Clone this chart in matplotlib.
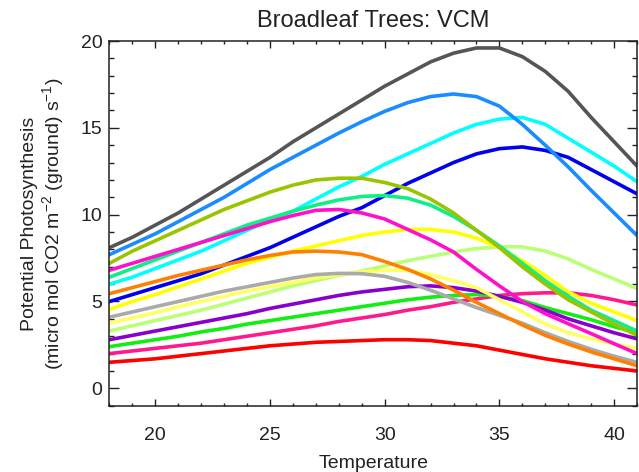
import matplotlib.pyplot as plt
from matplotlib.ticker import MultipleLocator

plt.rcParams['font.family'] = ['Liberation Sans', 'DejaVu Sans']
plt.rcParams['mathtext.fontset'] = 'custom'
plt.rcParams['mathtext.rm'] = 'Liberation Sans'

temperature = list(range(18, 42))

dark_gray = [8.1, 8.7, 9.4, 10.1, 10.9, 11.7, 12.5, 13.3, 14.2, 15.0, 15.8, 16.6,
             17.4, 18.1, 18.8, 19.3, 19.6, 19.6, 19.1, 18.25, 17.1, 15.6, 14.2, 12.8]
dodger_blue = [7.7, 8.3, 8.9, 9.6, 10.3, 11.0, 11.8, 12.6, 13.3, 14.0, 14.7, 15.35,
               15.95, 16.45, 16.8, 16.95, 16.8, 16.25, 15.2, 14.0, 12.75, 11.4, 10.1, 8.8]
olive = [7.2, 7.9, 8.5, 9.1, 9.7, 10.3, 10.8, 11.3, 11.7, 12.0, 12.1, 12.1,
         11.85, 11.5, 10.9, 10.1, 9.1, 8.1, 7.0, 6.0, 5.1, 4.4, 3.7, 3.05]
magenta = [6.8, 7.2, 7.6, 8.0, 8.4, 8.8, 9.2, 9.6, 9.95, 10.25, 10.3, 10.1,
           9.75, 9.15, 8.55, 7.85, 6.85, 5.9, 5.0, 4.3, 3.72, 3.15, 2.57, 2.0]
spring_green = [6.4, 6.9, 7.4, 7.9, 8.4, 8.9, 9.4, 9.8, 10.2, 10.55, 10.85, 11.05,
                11.1, 10.95, 10.55, 9.9, 9.1, 8.2, 7.2, 6.2, 5.3, 4.5, 3.9, 3.3]
cyan = [6.0, 6.4, 6.9, 7.4, 7.9, 8.5, 9.1, 9.7, 10.2, 10.9, 11.6, 12.2,
        12.9, 13.5, 14.1, 14.7, 15.2, 15.5, 15.6, 15.2, 14.4, 13.6, 12.8, 11.9]
orange = [5.45, 5.8, 6.15, 6.5, 6.8, 7.1, 7.4, 7.65, 7.85, 7.9, 7.85, 7.7,
          7.3, 6.85, 6.3, 5.65, 4.95, 4.3, 3.65, 3.05, 2.55, 2.1, 1.7, 1.3]
blue = [5.0, 5.4, 5.8, 6.2, 6.6, 7.1, 7.6, 8.1, 8.7, 9.3, 9.9, 10.4,
        11.1, 11.8, 12.4, 13.0, 13.5, 13.8, 13.9, 13.7, 13.3, 12.6, 11.9, 11.2]
yellow = [4.55, 5.0, 5.4, 5.85, 6.3, 6.75, 7.2, 7.55, 7.9, 8.2, 8.5, 8.8,
          9.0, 9.15, 9.15, 9.0, 8.65, 8.1, 7.35, 6.5, 5.55, 4.9, 4.4, 3.9]
light_gray = [4.1, 4.4, 4.7, 5.0, 5.3, 5.6, 5.85, 6.1, 6.35, 6.55, 6.62, 6.6,
              6.45, 6.1, 5.65, 5.15, 4.65, 4.2, 3.75, 3.2, 2.7, 2.25, 1.85, 1.5]
light_yellow = [3.75, 4.05, 4.35, 4.7, 5.0, 5.3, 5.6, 5.85, 6.1, 6.35, 6.55, 6.7,
                6.8, 6.8, 6.55, 6.2, 5.8, 5.1, 4.4, 3.7, 3.2, 2.85, 2.55, 2.3]
light_green = [3.3, 3.6, 3.9, 4.2, 4.5, 4.85, 5.2, 5.55, 5.9, 6.2, 6.5, 6.75,
               7.05, 7.35, 7.6, 7.85, 8.05, 8.15, 8.15, 7.9, 7.45, 6.85, 6.3, 5.75]
purple = [2.8, 3.05, 3.3, 3.55, 3.8, 4.05, 4.3, 4.6, 4.85, 5.1, 5.35, 5.55,
          5.7, 5.85, 5.9, 5.8, 5.6, 5.3, 4.95, 4.5, 4.0, 3.6, 3.2, 2.85]
green = [2.4, 2.6, 2.8, 3.0, 3.25, 3.45, 3.7, 3.9, 4.1, 4.3, 4.5, 4.7,
         4.9, 5.1, 5.25, 5.35, 5.4, 5.3, 5.05, 4.65, 4.3, 3.95, 3.55, 3.2]
deep_pink = [2.0, 2.15, 2.3, 2.45, 2.6, 2.8, 3.0, 3.2, 3.4, 3.6, 3.85, 4.05,
             4.25, 4.5, 4.7, 4.95, 5.15, 5.35, 5.45, 5.5, 5.5, 5.35, 5.1, 4.8]
red = [1.5, 1.6, 1.7, 1.85, 2.0, 2.15, 2.3, 2.45, 2.55, 2.65, 2.7, 2.75,
       2.8, 2.8, 2.75, 2.6, 2.45, 2.2, 1.95, 1.7, 1.5, 1.3, 1.15, 1.0]

curves = [
    (red, '#ff0000'),
    (deep_pink, '#ff1a8c'),
    (green, '#11ee11'),
    (purple, '#8800cc'),
    (light_green, '#bbff77'),
    (light_yellow, '#ffff66'),
    (light_gray, '#aaaaaa'),
    (yellow, '#ffff00'),
    (blue, '#0000ee'),
    (orange, '#ff8000'),
    (cyan, '#00ffff'),
    (spring_green, '#11ee88'),
    (magenta, '#ff11cc'),
    (olive, '#99c400'),
    (dodger_blue, '#1a8cff'),
    (dark_gray, '#555555'),
]

fig = plt.figure(figsize=(6.39, 4.72), dpi=100)
ax = fig.add_axes([0.1713, 0.1405, 0.8256, 0.7726])

for values, color in curves:
    ax.plot(temperature, values, color=color, lw=2.6, solid_joinstyle='round')

ax.set_xlim(18, 41)
ax.set_ylim(-1, 20)
ax.xaxis.set_major_locator(MultipleLocator(5))
ax.xaxis.set_minor_locator(MultipleLocator(1))
ax.yaxis.set_major_locator(MultipleLocator(5))
ax.yaxis.set_minor_locator(MultipleLocator(1))

ax.tick_params(axis='both', which='both', direction='in', top=True, right=True,
               colors='#222222', labelcolor='#222222', labelsize=14)
ax.tick_params(axis='x', which='major', length=5, width=1, pad=15)
ax.tick_params(axis='x', which='minor', length=2.5, width=1)
ax.tick_params(axis='y', which='major', length=7, width=1, pad=5)
ax.tick_params(axis='y', which='minor', length=3.5, width=1)
for sp in ax.spines.values():
    sp.set_color('#222222')
    sp.set_linewidth(1.1)

ax.set_title("Broadleaf Trees: VCM", fontsize=17, color='#222222', pad=10)
fig.text(0.584, 0.5 / 472, "Temperature", ha='center', va='bottom',
         fontsize=14, color='#222222')
fig.text(44 / 639, 1 - 224 / 472,
         "Potential Photosynthesis\n"
         r"(micro mol CO2 m$^{\mathregular{-2}}$ (ground) s$^{\mathregular{-1}}$)",
         rotation=90, ha='center', va='center', fontsize=14, color='#222222',
         linespacing=1.1, multialignment='center')

fig.savefig('out.png', dpi=100)
